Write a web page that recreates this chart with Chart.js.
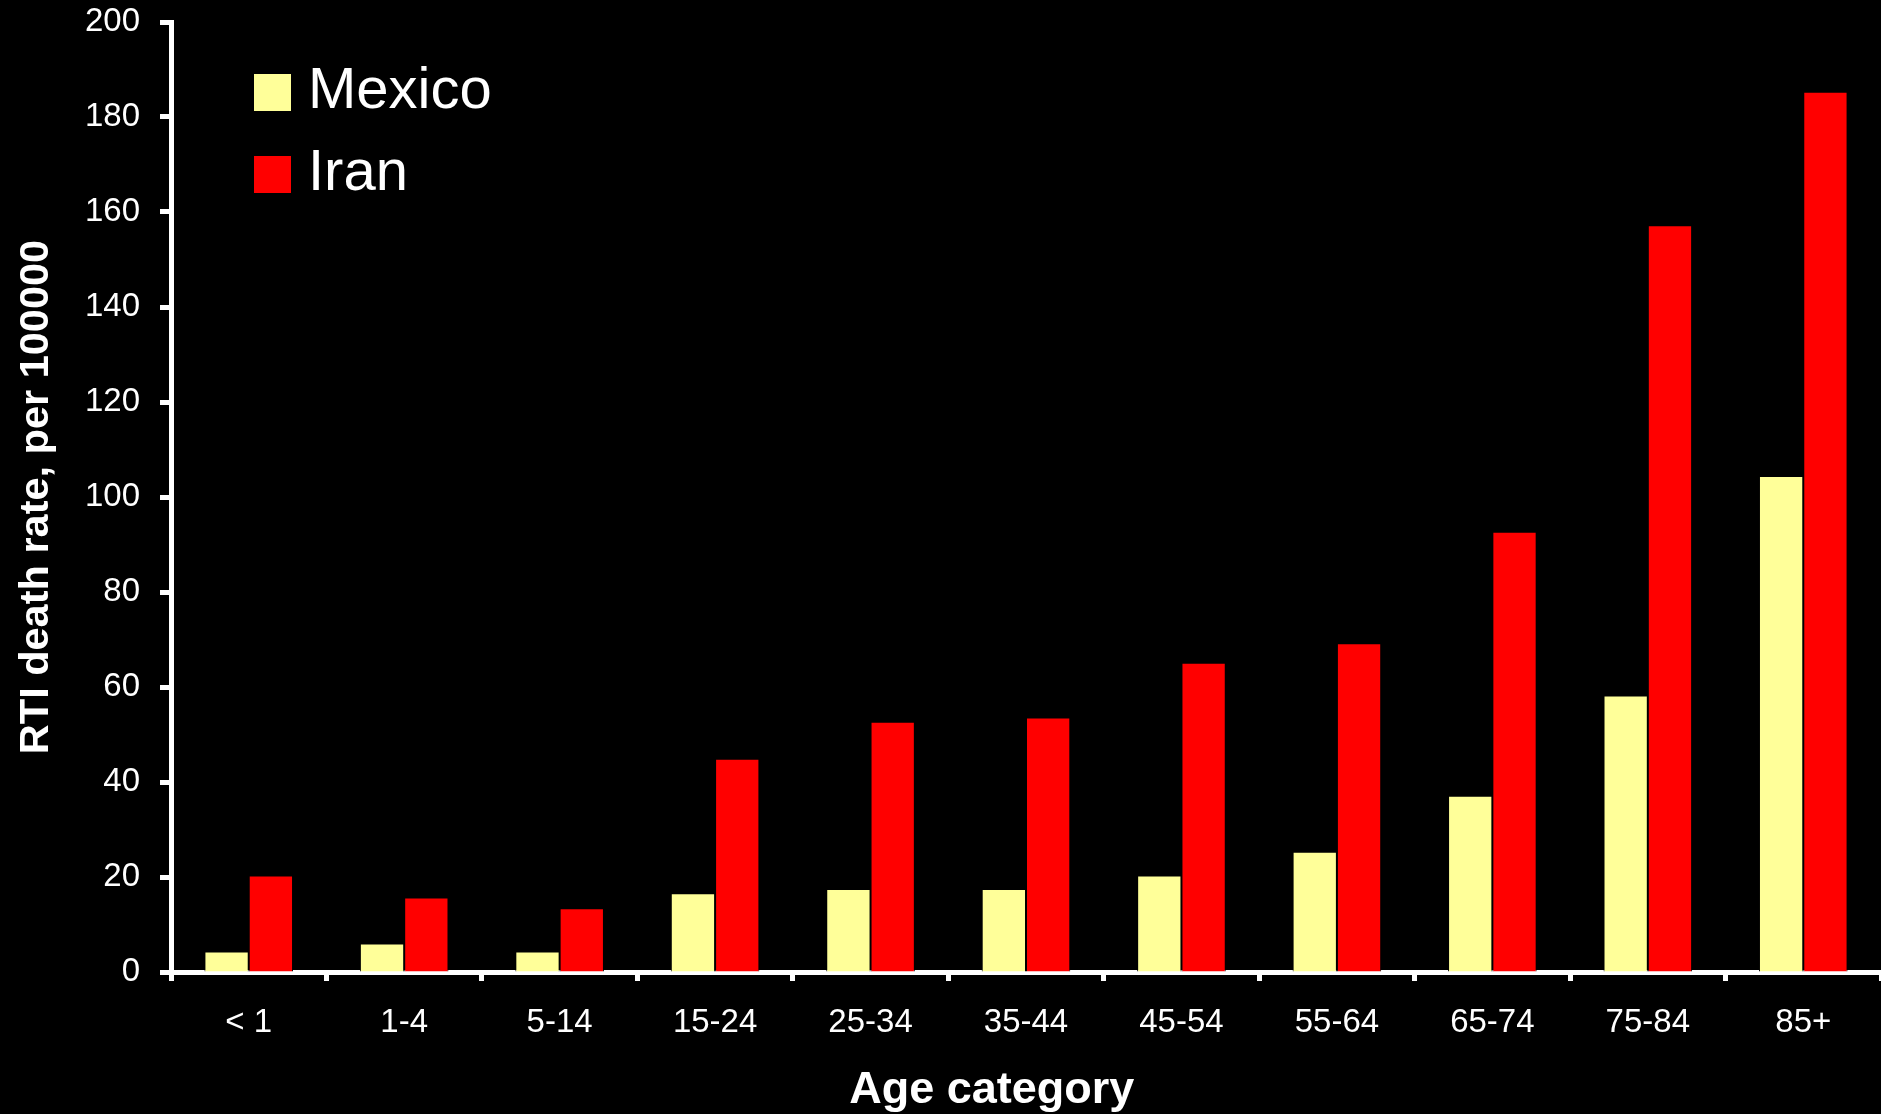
<!DOCTYPE html>
<html>
<head>
<meta charset="utf-8">
<title>RTI death rate by age</title>
<script src="https://cdn.jsdelivr.net/npm/chart.js@4.4.1/dist/chart.umd.min.js"></script>
<style>
  html, body { margin: 0; padding: 0; background: #000; }
  canvas { display: block; }
</style>
</head>
<body>
<canvas id="chart" width="1881" height="1114"></canvas>
<script>
const ageGroups = ['< 1', '1-4', '5-14', '15-24', '25-34', '35-44', '45-54', '55-64', '65-74', '75-84', '85+'];
const mexicoRates = [4.3, 6.0, 4.3, 16.6, 17.5, 17.5, 20.3, 25.3, 37.1, 58.2, 104.4];
const iranRates = [20.3, 15.7, 13.4, 44.9, 52.7, 53.6, 65.1, 69.2, 92.7, 157.2, 185.3];
const yTicks = [0, 20, 40, 60, 80, 100, 120, 140, 160, 180, 200];

const FONT = '"Liberation Sans", Arial, sans-serif';

// legend in the top-left corner of the plot, plus the x axis title
const overlay = {
  id: 'overlay',
  afterDraw(chart) {
    const ctx = chart.ctx;
    const area = chart.chartArea;
    ctx.save();
    ctx.textBaseline = 'middle';
    ctx.textAlign = 'left';
    ctx.font = '58px ' + FONT;
    chart.data.datasets.forEach((ds, i) => {
      const cy = area.top + 70 + i * 82;
      ctx.fillStyle = ds.backgroundColor;
      ctx.fillRect(area.left + 83, cy - 18, 37, 37);
      ctx.fillStyle = '#fff';
      ctx.fillText(ds.label, area.left + 137, cy);
    });
    ctx.font = 'bold 45px ' + FONT;
    ctx.textAlign = 'center';
    ctx.fillText('Age category', area.left + (area.right - area.left) * 0.48, chart.height - 23);
    ctx.restore();
  }
};

new Chart(document.getElementById('chart'), {
  type: 'bar',
  data: {
    labels: ageGroups,
    datasets: [
      {
        label: 'Mexico',
        data: mexicoRates,
        backgroundColor: '#ffff99',
        borderColor: '#000',
        borderWidth: 1
      },
      {
        label: 'Iran',
        data: iranRates,
        backgroundColor: '#ff0000',
        borderColor: '#000',
        borderWidth: 1
      }
    ]
  },
  options: {
    responsive: false,
    animation: false,
    layout: { padding: { top: 22, right: -4, left: 0, bottom: 0 } },
    datasets: { bar: { categoryPercentage: 0.57, barPercentage: 1 } },
    plugins: {
      legend: { display: false },
      tooltip: { enabled: false }
    },
    scales: {
      x: {
        offset: true,
        grid: {
          offset: true,
          drawOnChartArea: false,
          drawTicks: true,
          tickLength: 9,
          tickWidth: 5,
          tickColor: '#fff',
          color: '#fff'
        },
        border: { display: true, color: '#fff', width: 5 },
        ticks: { color: '#fff', font: { family: FONT, size: 33 }, padding: 22, maxRotation: 0 },
        afterFit(scale) {
          scale.height = 142;
          scale.paddingLeft = 0;
          scale.paddingRight = 0;
        }
      },
      y: {
        min: 0,
        max: 200,
        afterBuildTicks(scale) { scale.ticks = yTicks.map(v => ({ value: v })); },
        grid: {
          drawOnChartArea: false,
          drawTicks: true,
          tickLength: 11,
          tickWidth: 5,
          tickColor: '#fff',
          color: '#fff'
        },
        border: { display: true, color: '#fff', width: 5 },
        ticks: { color: '#fff', font: { family: FONT, size: 33 }, padding: 20 },
        title: {
          display: true,
          text: 'RTI death rate, per 100000',
          color: '#fff',
          font: { family: FONT, size: 41.5, weight: 'bold' },
          padding: { top: 12, bottom: 0 }
        },
        afterFit(scale) {
          scale.width = 171;
          scale.paddingTop = 0;
          scale.paddingBottom = 0;
        }
      }
    }
  },
  plugins: [overlay]
});
</script>
</body>
</html>
